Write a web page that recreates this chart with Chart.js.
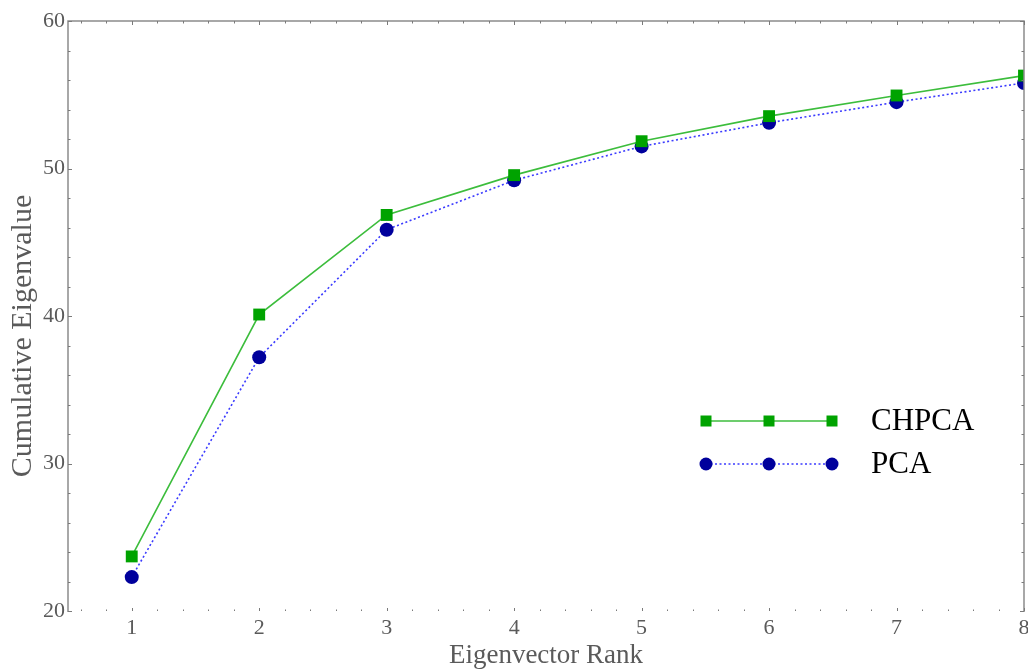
<!DOCTYPE html>
<html>
<head>
<meta charset="UTF-8">
<title>Cumulative Eigenvalue vs Eigenvector Rank</title>
<script src="https://cdn.jsdelivr.net/npm/chart.js"></script>
<style>
  html, body { margin: 0; padding: 0; background: #fff; }
</style>
</head>
<body>
<canvas id="eigChart" width="1028" height="672"></canvas>
<script>
// values
const ranks = [1, 2, 3, 4, 5, 6, 7, 8];
const chpca = [23.7, 40.1, 46.85, 49.55, 51.85, 53.55, 54.95, 56.3];
const pca = [22.3, 37.2, 45.85, 49.2, 51.5, 53.1, 54.5, 55.8];
const yTicks = [20, 30, 40, 50, 60];
const seriesNames = ['CHPCA', 'PCA'];
const xTitle = 'Eigenvector Rank';
const yTitle = 'Cumulative Eigenvalue';

const serif = '"Liberation Serif", "Times New Roman", serif';
const axisGrey = '#5a5a5a';

// Mathematica style frame: left, top, right lines, inward ticks,
// plus the x tick labels and the y title (drawn here so they can overhang)
const framePlugin = {
    id: 'frame',
    afterDatasetsDraw(chart) {
        const { ctx, chartArea: a, scales: { x, y } } = chart;
        ctx.save();
        ctx.strokeStyle = '#8c8c8c';
        ctx.lineWidth = 1.5;
        ctx.beginPath();
        ctx.moveTo(a.left, a.bottom + 1);
        ctx.lineTo(a.left, a.top);
        ctx.lineTo(a.right, a.top);
        ctx.lineTo(a.right, a.bottom + 1);
        ctx.stroke();

        ctx.strokeStyle = '#7a7a7a';
        ctx.lineWidth = 1;
        ctx.beginPath();
        for (let k = 3; k <= 40; k++) {
            const v = k / 5;
            if (v < x.min || v > x.max) continue;
            const px = Math.round(x.getPixelForValue(v)) + 0.5;
            const len = k % 5 === 0 ? 4 : 2.5;
            ctx.moveTo(px, a.top);
            ctx.lineTo(px, a.top + len);
            ctx.moveTo(px, a.bottom);
            ctx.lineTo(px, a.bottom - len + 1);
        }
        for (let k = 10; k <= 30; k++) {
            const v = k * 2;
            const py = Math.round(y.getPixelForValue(v)) + 0.5;
            const len = v % 10 === 0 ? 4 : 2.5;
            ctx.moveTo(a.left, py);
            ctx.lineTo(a.left + len, py);
            ctx.moveTo(a.right, py);
            ctx.lineTo(a.right - len, py);
        }
        ctx.stroke();

        ctx.fillStyle = axisGrey;
        ctx.font = '22px ' + serif;
        ctx.textAlign = 'center';
        ctx.textBaseline = 'middle';
        ranks.forEach(r => {
            ctx.fillText(String(r), x.getPixelForValue(r), a.bottom + 17);
        });

        ctx.font = '30px ' + serif;
        ctx.translate(23, 336);
        ctx.rotate(-Math.PI / 2);
        ctx.fillText(yTitle, 0, 0);
        ctx.restore();
    }
};

// legend drawn inside the plot: three markers on a line, then the name
const insideLegend = {
    id: 'insideLegend',
    afterDraw(chart) {
        const { ctx } = chart;
        const rows = [421, 464];
        const marks = [706, 769, 832];
        ctx.save();
        chart.data.datasets.forEach((ds, i) => {
            const yy = rows[i];
            ctx.strokeStyle = ds.borderColor;
            ctx.lineWidth = ds.borderWidth;
            ctx.setLineDash(ds.borderDash || []);
            ctx.beginPath();
            ctx.moveTo(marks[0], yy);
            ctx.lineTo(marks[2], yy);
            ctx.stroke();
            ctx.setLineDash([]);
            ctx.fillStyle = ds.pointBackgroundColor;
            marks.forEach(mx => {
                ctx.beginPath();
                if (ds.pointStyle === 'rect') {
                    ctx.rect(mx - 5.5, yy - 5.5, 11, 11);
                } else {
                    ctx.arc(mx, yy, 6.5, 0, Math.PI * 2);
                }
                ctx.fill();
            });
            ctx.fillStyle = '#000';
            ctx.font = '31px ' + serif;
            ctx.textBaseline = 'middle';
            ctx.fillText(seriesNames[i], 871, yy + 1);
        });
        ctx.restore();
    }
};

const ctx = document.getElementById('eigChart').getContext('2d');
const eigChart = new Chart(ctx, {
    type: 'line',
    data: {
        datasets: [{
            label: seriesNames[0],
            data: ranks.map((r, i) => ({ x: r, y: chpca[i] })),
            borderColor: '#3cbd3c',
            borderWidth: 1.6,
            pointStyle: 'rect',
            pointRadius: 8.4,
            pointBackgroundColor: '#00a300',
            pointBorderWidth: 0,
            pointHoverRadius: 8.4,
            tension: 0,
            clip: 0
        }, {
            label: seriesNames[1],
            data: ranks.map((r, i) => ({ x: r, y: pca[i] })),
            borderColor: '#3b3bff',
            borderWidth: 1.6,
            borderDash: [2, 2.5],
            pointStyle: 'circle',
            pointRadius: 7,
            pointBackgroundColor: '#00009c',
            pointBorderWidth: 0,
            pointHoverRadius: 7,
            tension: 0,
            clip: 0
        }]
    },
    options: {
        responsive: false,
        animation: false,
        layout: { autoPadding: false, padding: { top: 21, right: 4, left: 0, bottom: 0 } },
        plugins: { legend: { display: false }, tooltip: { enabled: false } },
        scales: {
            x: {
                type: 'linear',
                min: 0.5,
                max: 8,
                afterBuildTicks: s => { s.ticks = ranks.map(v => ({ value: v })); },
                afterFit: s => { s.height = 61; s.paddingLeft = 0; s.paddingRight = 0; },
                grid: { display: false, drawTicks: false },
                border: { display: false },
                ticks: { display: false },
                title: { display: true, text: xTitle, color: axisGrey, font: { family: serif, size: 27 }, padding: { top: 0, bottom: 0 } }
            },
            y: {
                min: 20,
                max: 60,
                afterBuildTicks: s => { s.ticks = yTicks.map(v => ({ value: v })); },
                afterFit: s => { s.width = 68; s.paddingTop = 0; s.paddingBottom = 0; },
                grid: { display: false, drawTicks: false },
                border: { display: false },
                ticks: { color: axisGrey, font: { family: serif, size: 22 }, padding: 3 },
                title: { display: false }
            }
        }
    },
    plugins: [framePlugin, insideLegend]
});
</script>
</body>
</html>
